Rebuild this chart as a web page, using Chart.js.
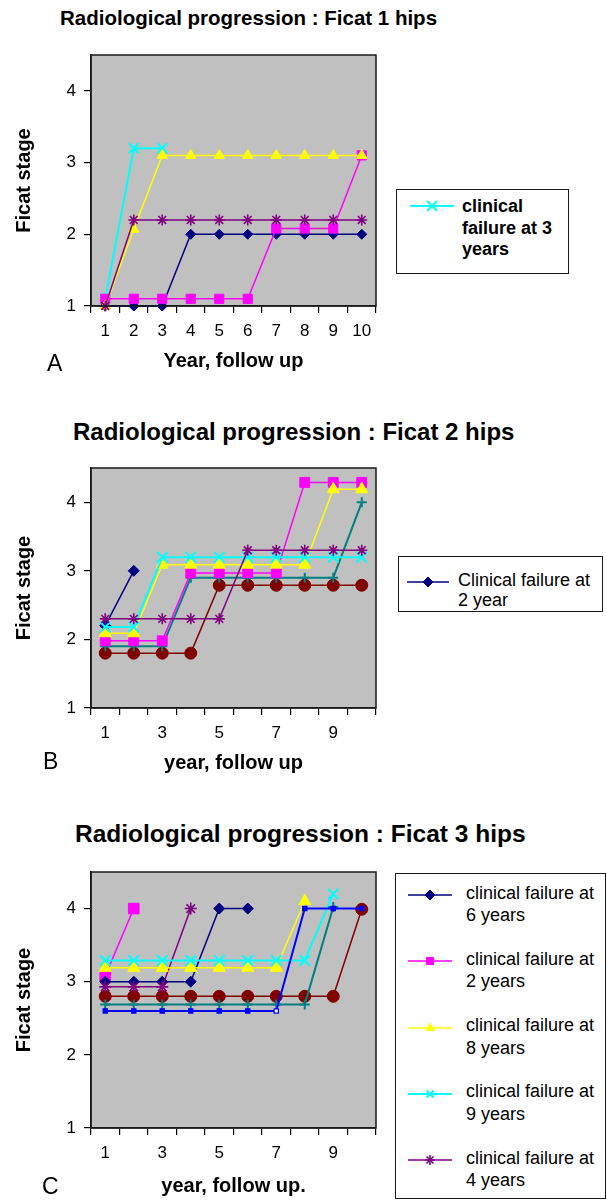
<!DOCTYPE html>
<html>
<head>
<meta charset="utf-8">
<script src="https://cdn.jsdelivr.net/npm/chart.js@4.4.1/dist/chart.umd.min.js"></script>
<style>
    html, body { margin: 0; padding: 0; background: #fff; }
    body {
        width: 607px; height: 1201px; position: relative; overflow: hidden;
        font-family: "Liberation Sans", Arial, sans-serif; color: #000;
    }
    .abs { position: absolute; }
    .titulo { font-weight: bold; line-height: 1; white-space: nowrap; }
    .letra { font-size: 23px; line-height: 1; }
    .caixa { border: 1.5px solid #1a1a1a; box-sizing: border-box; }
    .leg-texto { font-size: 18px; white-space: pre; }
</style>
</head>
<body>

<div class="abs titulo" style="left:60px; top:8px; font-size:20.5px;">Radiological progression : Ficat 1 hips</div>
<div class="abs titulo" style="left:73px; top:420px; font-size:24px;">Radiological progression : Ficat 2 hips</div>
<div class="abs titulo" style="left:75px; top:822px; font-size:24.5px;">Radiological progression : Ficat 3 hips</div>

<canvas id="graficoA" class="abs" width="390" height="390" style="left:0; top:0;"></canvas>
<canvas id="graficoB" class="abs" width="390" height="400" style="left:0; top:390px;"></canvas>
<canvas id="graficoC" class="abs" width="390" height="411" style="left:0; top:790px;"></canvas>

<div class="abs letra" style="left:47px; top:352px;">A</div>
<div class="abs letra" style="left:43px; top:750px;">B</div>
<div class="abs letra" style="left:42px; top:1175px;">C</div>

<div class="abs caixa" style="left:396px; top:189px; width:173px; height:85px;"></div>
<div class="abs caixa" style="left:398px; top:556px; width:205px; height:56px;"></div>
<div class="abs caixa" style="left:395px; top:873px; width:211px; height:326px;"></div>

<script>
/* =========================
   DADOS
========================= */

const anos = ['1', '2', '3', '4', '5', '6', '7', '8', '9', '10'];
const ticksY = [1, 2, 3, 4];
const ticksXA = ['1', '2', '3', '4', '5', '6', '7', '8', '9', '10'];
const ticksXBC = ['1', '3', '5', '7', '9'];

// Ficat 1
const a1Roxo    = [1.0, 2.2, 2.2, 2.2, 2.2, 2.2, 2.2, 2.2, 2.2, 2.2];
const a1Amarelo = [1.0, 2.07, 3.1, 3.1, 3.1, 3.1, 3.1, 3.1, 3.1, 3.1];
const a1Magenta = [1.1, 1.1, 1.1, 1.1, 1.1, 1.1, 2.08, 2.08, 2.08, 3.1];
const a1Ciano   = [1.1, 3.2, 3.2];
const a1Marinho = [1, 1, 1, 2, 2, 2, 2, 2, 2, 2];

// Ficat 2
const b2Roxo    = [2.3, 2.3, 2.3, 2.3, 2.3, 3.3, 3.3, 3.3, 3.3, 3.3];
const b2Ciano   = [2.18, 2.18, 3.2, 3.2, 3.2, 3.2, 3.2, 3.2, 3.2, 3.2];
const b2Amarelo = [2.09, 2.09, 3.09, 3.09, 3.09, 3.09, 3.09, 3.09, 4.19, 4.19];
const b2Magenta = [1.98, 1.98, 1.98, 2.97, 2.97, 2.97, 2.97, 4.29, 4.29, 4.29];
const b2Verde   = [1.9, 1.9, 1.9, 2.9, 2.9, 2.9, 2.9, 2.9, 2.9, 4.0];
const b2Vinho   = [1.8, 1.8, 1.8, 1.8, 2.79, 2.79, 2.79, 2.79, 2.79, 2.79];
const b2Marinho = [2.2, 3.0];

// Ficat 3
const c3Azul    = [2.6, 2.6, 2.6, 2.6, 2.6, 2.6, 2.6, 4.0, 4.0, 4.0];
const c3Verde   = [2.69, 2.69, 2.69, 2.69, 2.69, 2.69, 2.69, 2.69, 4.02];
const c3Ciano   = [3.29, 3.29, 3.29, 3.29, 3.29, 3.29, 3.29, 3.29, 4.2];
const c3Amarelo = [3.19, 3.19, 3.19, 3.19, 3.19, 3.19, 3.19, 4.1];
const c3Roxo    = [2.93, 2.93, 2.93, 4.0];
const c3Marinho = [3.0, 3.0, 3.0, 3.0, 4.0, 4.0];
const c3Magenta = [3.08, 4.0];
const c3Vinho   = [2.8, 2.8, 2.8, 2.8, 2.8, 2.8, 2.8, 2.8, 2.8, 3.99];

// legendas
const nomeA = 'clinical\nfailure at 3\nyears';
const nomeB = 'Clinical failure at\n2 year';
const nomesC = [
    'clinical failure at\n6 years',
    'clinical failure at\n2 years',
    'clinical failure at\n8 years',
    'clinical failure at\n9 years',
    'clinical failure at\n4 years'
];

/* =========================
   ESTILOS
========================= */

const estilos = {
    marinho: { cor: '#000080', ponto: 'rectRot', linha: 1.5, borda: 1 },
    magenta: { cor: '#ff00ff', ponto: 'rect', linha: 1.5, borda: 1 },
    amarelo: { cor: '#ffff00', ponto: 'triangle', linha: 1.5, borda: 1 },
    ciano:   { cor: '#00ffff', ponto: 'crossRot', linha: 2, borda: 2 },
    roxo:    { cor: '#800080', ponto: 'star', linha: 1.5, borda: 1.6 },
    vinho:   { cor: '#800000', ponto: 'circle', linha: 1.5, borda: 1 },
    verde:   { cor: '#008080', ponto: 'cross', linha: 2, borda: 2 },
    azul:    { cor: '#0000ff', ponto: 'rect', linha: 2, borda: 1.2 }
};

function serie(dados, tipo, raio, nome) {
    const e = estilos[tipo];
    return {
        label: nome || '',
        data: dados,
        borderColor: e.cor,
        backgroundColor: e.cor,
        borderWidth: e.linha,
        pointStyle: e.ponto,
        pointRadius: raio,
        pointBackgroundColor: e.cor,
        pointBorderColor: e.cor,
        pointBorderWidth: e.borda,
        tension: 0,
        spanGaps: false,
        clip: false
    };
}

/* =========================
   MOLDURA DA ÁREA DO GRÁFICO
========================= */

const moldura = {
    id: 'moldura',
    beforeDraw(chart) {
        const { ctx, chartArea: a } = chart;
        ctx.save();
        ctx.fillStyle = '#c0c0c0';
        ctx.fillRect(a.left, a.top, a.width, a.height);
        ctx.restore();
    },
    afterDraw(chart) {
        const { ctx, chartArea: a } = chart;
        ctx.save();
        ctx.strokeStyle = '#1a1a1a';
        ctx.lineWidth = 1.5;
        ctx.strokeRect(a.left, a.top, a.width, a.height);
        ctx.restore();
    }
};

Chart.defaults.font.family = '"Liberation Sans", Arial, sans-serif';
Chart.defaults.color = '#000';

function criarGrafico(id, datasets, cfg) {
    return new Chart(document.getElementById(id), {
        type: 'line',
        data: { labels: anos, datasets: datasets },
        options: {
            responsive: false,
            animation: false,
            events: [],
            layout: { padding: { top: cfg.topo, left: 0, right: 14, bottom: 0 } },
            plugins: {
                legend: { display: false },
                tooltip: { enabled: false }
            },
            scales: {
                x: {
                    offset: true,
                    grid: { offset: true, drawOnChartArea: false, tickLength: 7, color: '#000', lineWidth: 1.2 },
                    border: { color: '#1a1a1a', width: 1.5 },
                    ticks: {
                        autoSkip: false,
                        maxRotation: 0,
                        padding: 8,
                        font: { size: 17 },
                        color: '#000',
                        callback: (v, i) => cfg.ticksX.includes(anos[i]) ? anos[i] : ''
                    },
                    title: {
                        display: true,
                        text: cfg.tituloX,
                        font: { size: 20, weight: 'bold' },
                        color: '#000',
                        padding: { top: 0, bottom: cfg.padTituloX }
                    },
                    afterFit: s => { s.height = cfg.alturaX; }
                },
                y: {
                    min: 1,
                    max: 4.5,
                    afterBuildTicks: s => { s.ticks = ticksY.map(v => ({ value: v })); },
                    grid: { drawOnChartArea: false, tickLength: 7, color: '#000', lineWidth: 1.2 },
                    border: { color: '#1a1a1a', width: 1.5 },
                    ticks: { padding: 8, font: { size: 17 }, color: '#000' },
                    title: {
                        display: true,
                        text: 'Ficat stage',
                        font: { size: 20, weight: 'bold' },
                        color: '#000',
                        padding: { top: 12, bottom: 0 }
                    },
                    afterFit: s => { s.width = 91; }
                }
            }
        },
        plugins: [moldura]
    });
}

/* =========================
   LEGENDA EM HTML
========================= */

function legendaHTML(chart, itens) {
    itens.forEach(item => {
        const ds = chart.data.datasets[item.indice];

        const tela = document.createElement('canvas');
        tela.width = item.largura;
        tela.height = 20;
        tela.className = 'abs';
        tela.style.left = item.x + 'px';
        tela.style.top = (item.y - 10) + 'px';
        document.body.appendChild(tela);

        const ctx = tela.getContext('2d');
        ctx.strokeStyle = ds.borderColor;
        ctx.lineWidth = ds.borderWidth;
        ctx.beginPath();
        ctx.moveTo(0, 10);
        ctx.lineTo(item.largura, 10);
        ctx.stroke();
        ctx.fillStyle = ds.pointBackgroundColor;
        ctx.strokeStyle = ds.pointBorderColor;
        ctx.lineWidth = ds.pointBorderWidth;
        Chart.helpers.drawPoint(ctx, {
            pointStyle: ds.pointStyle, radius: item.raio, rotation: 0, borderWidth: ds.pointBorderWidth
        }, item.largura / 2, 10);

        const texto = document.createElement('div');
        texto.className = 'abs leg-texto';
        texto.textContent = ds.label;
        texto.style.left = item.xTexto + 'px';
        texto.style.top = item.yTexto + 'px';
        texto.style.lineHeight = item.entrelinha + 'px';
        if (item.negrito) texto.style.fontWeight = 'bold';
        document.body.appendChild(texto);
    });
}

/* =========================
   GRÁFICO A - FICAT 1
========================= */

const graficoA = criarGrafico('graficoA', [
    serie(a1Roxo, 'roxo', 5.5),
    serie(a1Amarelo, 'amarelo', 6),
    serie(a1Magenta, 'magenta', 6.5),
    serie(a1Ciano, 'ciano', 7, nomeA),
    serie(a1Marinho, 'marinho', 5)
], { topo: 55, alturaX: 84, padTituloX: 17, tituloX: 'Year, follow up', ticksX: ticksXA });

legendaHTML(graficoA, [
    { indice: 3, x: 410, y: 206, largura: 44, raio: 7, xTexto: 462, yTexto: 196, entrelinha: 21.5, negrito: true }
]);

/* =========================
   GRÁFICO B - FICAT 2
========================= */

const graficoB = criarGrafico('graficoB', [
    serie(b2Roxo, 'roxo', 5.5),
    serie(b2Ciano, 'ciano', 7.5),
    serie(b2Amarelo, 'amarelo', 7),
    serie(b2Magenta, 'magenta', 7),
    serie(b2Verde, 'verde', 5),
    serie(b2Vinho, 'vinho', 6),
    serie(b2Marinho, 'marinho', 5.5, nomeB)
], { topo: 78, alturaX: 82, padTituloX: 14.5, tituloX: 'year, follow up', ticksX: ticksXBC });

legendaHTML(graficoB, [
    { indice: 6, x: 407, y: 582, largura: 42, raio: 5, xTexto: 458, yTexto: 571, entrelinha: 19.5 }
]);

/* =========================
   GRÁFICO C - FICAT 3
========================= */

const azulC = serie(c3Azul, 'azul', 3);
// último ponto antes do salto aparece vazado
azulC.pointBackgroundColor = ctx => ctx.dataIndex === 6 ? '#ffffff' : estilos.azul.cor;

const graficoC = criarGrafico('graficoC', [
    azulC,
    serie(c3Verde, 'verde', 5),
    serie(c3Ciano, 'ciano', 7.5, nomesC[3]),
    serie(c3Amarelo, 'amarelo', 7, nomesC[2]),
    serie(c3Roxo, 'roxo', 6, nomesC[4]),
    serie(c3Marinho, 'marinho', 5.5, nomesC[0]),
    serie(c3Magenta, 'magenta', 7.5, nomesC[1]),
    serie(c3Vinho, 'vinho', 6)
], { topo: 82, alturaX: 73, padTituloX: 2.5, tituloX: 'year, follow up.', ticksX: ticksXBC });

const ordemC = [5, 6, 3, 2, 4];
legendaHTML(graficoC, ordemC.map((indice, i) => {
    const yc = 895 + i * 66.3;
    return { indice, x: 408, y: yc, largura: 44, raio: 5, xTexto: 466, yTexto: yc - 13.5, entrelinha: 22.5 };
}));
</script>
</body>
</html>
